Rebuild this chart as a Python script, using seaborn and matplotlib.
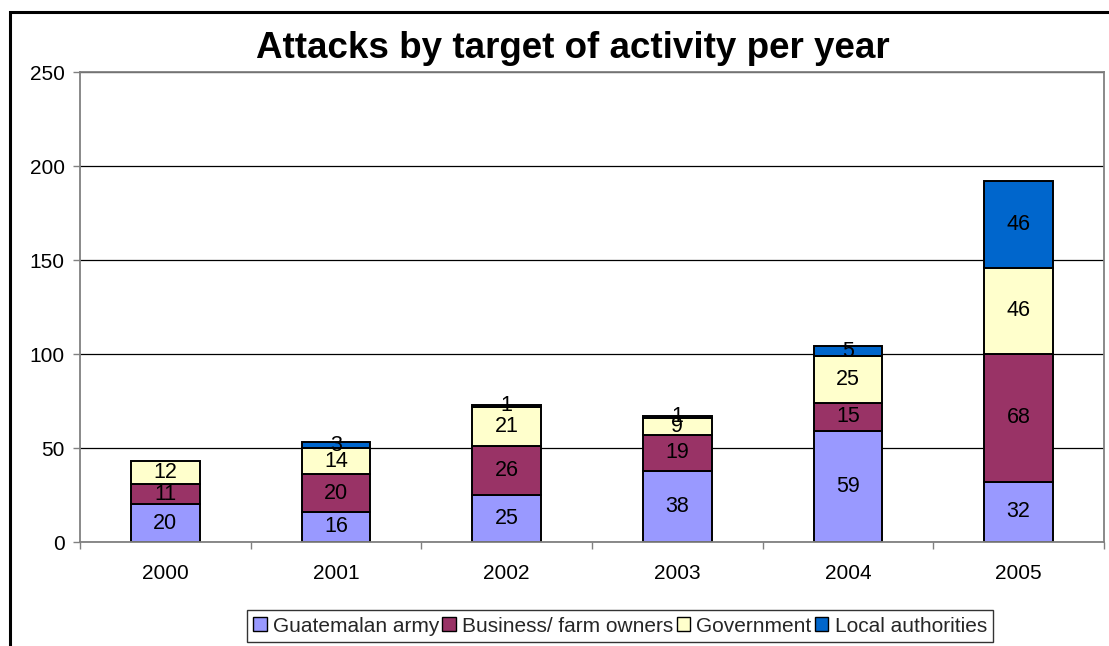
import numpy as np
import pandas as pd
import matplotlib
matplotlib.use("Agg")
import matplotlib.pyplot as plt
import seaborn as sns
from matplotlib.patches import Rectangle, Patch

years = ["2000", "2001", "2002", "2003", "2004", "2005"]
series_names = ["Guatemalan army", "Business/ farm owners", "Government", "Local authorities"]
guatemalan_army = [20, 16, 25, 38, 59, 32]
business_farm_owners = [11, 20, 26, 19, 15, 68]
government = [12, 14, 21, 9, 25, 46]
local_authorities = [0, 3, 1, 1, 5, 46]
series_colors = ["#9999FF", "#993366", "#FFFFCC", "#0066CC"]

sns.set_theme(style="white")
plt.rcParams["font.family"] = ["Liberation Sans", "DejaVu Sans"]

W, H = 1109, 646
fig = plt.figure(figsize=(W / 100, H / 100), dpi=100)
fig.patch.set_facecolor("white")

# outer chart frame (runs off the right and bottom edges)
fig.patches.append(Rectangle((10 / W, -0.2), 1.2, 1.2 - 12 / H, transform=fig.transFigure,
                             fill=False, edgecolor="black", linewidth=2.2))

ax = fig.add_axes([80 / W, 1 - 542 / H, (1104 - 80) / W, (542 - 72) / H])
ax.set_facecolor("white")
ax.set_axisbelow(True)

bottom = np.zeros(len(years))
for name, vals, col in zip(series_names,
                           [guatemalan_army, business_farm_owners, government, local_authorities],
                           series_colors):
    vals = np.asarray(vals, dtype=float)
    df = pd.DataFrame({"year": years, "value": vals, "base": bottom.copy()})
    df = df[df["value"] > 0]
    sns.barplot(data=df, x="year", y="value", order=years, color=col, saturation=1,
                width=0.404, edgecolor="black", linewidth=1.4, errorbar=None,
                bottom=df["base"].to_numpy(), ax=ax)
    ax.bar_label(ax.containers[-1], labels=[f"{int(v)}" for v in df["value"]],
                 label_type="center", fontsize=15.5, color="black")
    bottom += vals

ax.set_xlim(-0.5, len(years) - 0.5)
ax.set_ylim(0, 250)
ax.set_yticks(np.arange(0, 251, 50))
ax.set_xlabel("")
ax.set_ylabel("")
ax.yaxis.grid(True, color="black", linewidth=0.9)
ax.xaxis.grid(False)

# category boundary tick marks, labels centred on the bars
ax.set_xticks(np.arange(-0.5, len(years), 1.0), minor=True)
ax.tick_params(axis="x", which="major", length=0, pad=16, labelsize=15, colors="black")
ax.tick_params(axis="x", which="minor", length=5, width=1, color="#808080", direction="out", bottom=True)
ax.tick_params(axis="y", which="major", length=5, width=1, color="#808080", direction="out",
               left=True, pad=6, labelsize=15, labelcolor="black")

for side in ["left", "bottom", "top", "right"]:
    ax.spines[side].set_color("#808080")
    ax.spines[side].set_linewidth(1.3)
    ax.spines[side].set_visible(True)

fig.text(573 / W, 1 - 49 / H, "Attacks by target of activity per year",
         ha="center", va="center", fontsize=26.5, fontweight="bold", color="black")

handles = [Patch(facecolor=c, edgecolor="black", linewidth=1.0) for c in series_colors]
leg = fig.legend(handles=handles, labels=series_names, loc="center",
                 bbox_to_anchor=(620 / W, 1 - 626 / H), ncol=4, frameon=True, fancybox=False,
                 edgecolor="black", fontsize=15, handlelength=0.65, handleheight=0.65,
                 handletextpad=0.3, columnspacing=0.15, borderpad=0.3, borderaxespad=0)
leg.get_frame().set_linewidth(1.0)

fig.savefig("out.png", dpi=100, facecolor="white")
